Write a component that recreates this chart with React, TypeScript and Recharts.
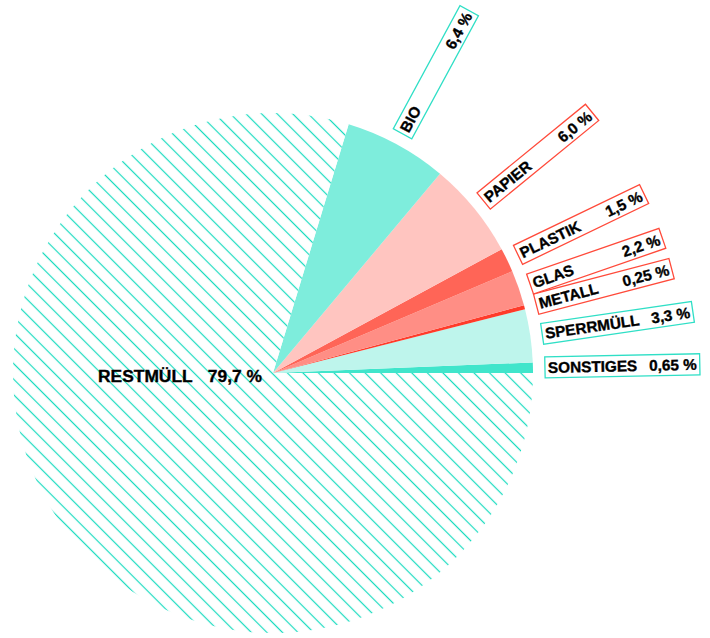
import { PieChart, Pie, Cell } from 'recharts';

// Anteile am Hausmüll, gegen den Uhrzeigersinn ab 3 Uhr
const CATEGORIES = ['SONSTIGES', 'SPERRMÜLL', 'METALL', 'GLAS', 'PLASTIK', 'PAPIER', 'BIO', 'RESTMÜLL'];
const SHARES = [0.65, 3.3, 0.25, 2.2, 1.5, 6.0, 6.4, 79.7];

const TEAL = '#2fdfc6';
const RED = '#ff4a3a';
const FILLS: Record<string, string> = {
  SONSTIGES: '#40e5cb',
  'SPERRMÜLL': '#bef5ec',
  METALL: '#ff3b2a',
  GLAS: '#ff8e85',
  PLASTIK: '#ff6557',
  PAPIER: '#ffc5c0',
  BIO: '#7eeddc',
  'RESTMÜLL': 'url(#hatch)',
};
const BORDERS: Record<string, string> = {
  SONSTIGES: TEAL, 'SPERRMÜLL': TEAL, BIO: TEAL,
  METALL: RED, GLAS: RED, PLASTIK: RED, PAPIER: RED,
};

const data = CATEGORIES.map((name, i) => ({ name, value: SHARES[i] }));

const FONT = '"Liberation Sans", Arial, sans-serif';
const FONT_SIZE = 15.3;
const RADIAN = Math.PI / 180;

// etwas fetter als Liberation Sans Bold
const textStyle = { fontFamily: FONT, fontWeight: 'bold', fill: '#000', stroke: '#000', strokeWidth: 0.35 } as const;

let ctx: CanvasRenderingContext2D | null = null;
function textWidth(s: string, size: number) {
  if (!ctx) ctx = document.createElement('canvas').getContext('2d');
  if (!ctx) return s.length * size * 0.62;
  ctx.font = `bold ${size}px ${FONT}`;
  return ctx.measureText(s).width;
}

function fmt(v: number) {
  const digits = Math.round(v * 100) % 10 === 0 ? 1 : 2;
  return v.toFixed(digits).replace('.', ',') + ' %';
}

function renderLabel(props: any) {
  const { cx, cy, midAngle, outerRadius, name, value } = props;
  const txt = fmt(value);

  if (name === 'RESTMÜLL') {
    return (
      <g>
        <text x={cx - 175} y={cy + 9} fontSize={17.4} {...textStyle}>{name}</text>
        <text x={cx - 11} y={cy + 9} fontSize={17.4} textAnchor="end" {...textStyle}>{txt}</text>
      </g>
    );
  }

  const r = outerRadius + 12;
  const x = cx + r * Math.cos(-midAngle * RADIAN);
  const y = cy + r * Math.sin(-midAngle * RADIAN);
  const w = Math.max(140, textWidth(name, FONT_SIZE) + textWidth(txt, FONT_SIZE) + 18);
  const h = 21;

  return (
    <g transform={`translate(${x},${y}) rotate(${-midAngle})`}>
      <rect x={0} y={-h / 2} width={w} height={h} fill="#fff" stroke={BORDERS[name]} strokeWidth={1.3} />
      <text x={3} y={5.5} fontSize={FONT_SIZE} {...textStyle}>{name}</text>
      <text x={w - 3} y={5.5} fontSize={FONT_SIZE} textAnchor="end" {...textStyle}>{txt}</text>
    </g>
  );
}

export default function App() {
  return (
    <div style={{ position: 'absolute', left: 0, top: 0, background: '#fff' }}>
      <PieChart width={710} height={638} margin={{ top: 0, right: 0, bottom: 0, left: 0 }}>
        <defs>
          <pattern id="hatch" patternUnits="userSpaceOnUse" width={11} height={11}
            patternTransform="rotate(-45)">
            <rect width={11} height={11} fill="#fff" />
            <line x1={5.5} y1={0} x2={5.5} y2={11} stroke="#19dcc0" strokeWidth={1.2} />
          </pattern>
        </defs>
        <Pie
          data={data}
          dataKey="value"
          nameKey="name"
          cx={273}
          cy={373}
          innerRadius={0}
          outerRadius={260}
          startAngle={0}
          endAngle={360}
          stroke="none"
          label={renderLabel}
          labelLine={false}
          isAnimationActive={false}
        >
          {data.map((d) => (
            <Cell key={d.name} fill={FILLS[d.name]} />
          ))}
        </Pie>
      </PieChart>
    </div>
  );
}
